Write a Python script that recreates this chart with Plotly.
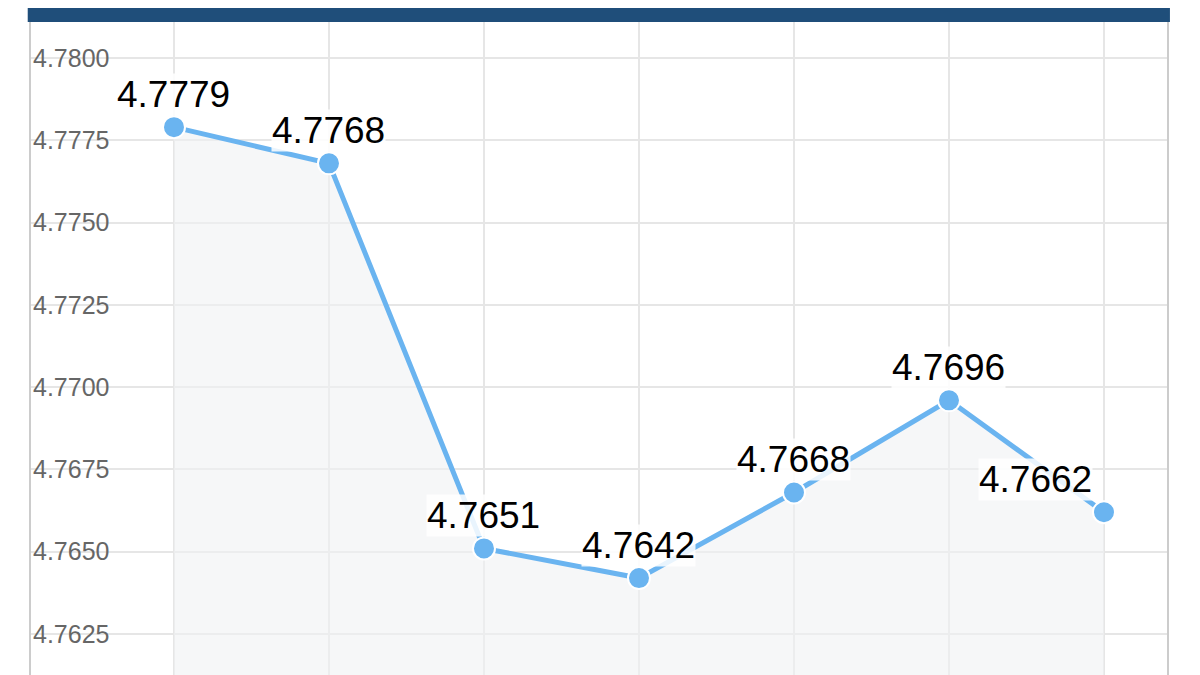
import plotly.graph_objects as go

cats = ["1", "2", "3", "4", "5", "6", "7"]
values = [4.7779, 4.7768, 4.7651, 4.7642, 4.7668, 4.7696, 4.7662]
labels = ["4.7779", "4.7768", "4.7651", "4.7642", "4.7668", "4.7696", "4.7662"]
label_dx = [0, 0, 0, 0, 0, 0, -68]
tickvals = [4.7625, 4.7650, 4.7675, 4.7700, 4.7725, 4.7750, 4.7775, 4.7800]

xs = list(range(len(cats)))
fig = go.Figure()
fig.add_trace(go.Scatter(
    x=xs, y=values, mode="lines+markers", fill="tozeroy",
    fillcolor="rgba(240,242,244,0.6)",
    line=dict(color="#6ab4f0", width=5),
    marker=dict(size=22, color="#6ab4f0", line=dict(color="white", width=2)),
    hoverinfo="skip"))
for x, v, t, dx in zip(xs, values, labels, label_dx):
    fig.add_annotation(x=x, y=v, text=t, showarrow=False, yshift=33, xshift=dx,
                       font=dict(size=37, color="black", family="Liberation Sans"),
                       bgcolor="rgba(255,255,255,0.85)", borderpad=0)
fig.update_layout(
    width=1200, height=675, margin=dict(l=22, r=40, t=14, b=8),
    paper_bgcolor="white", plot_bgcolor="white", showlegend=False,
    xaxis=dict(range=[-0.929, 6.413], tickvals=xs, showticklabels=False,
               showgrid=True, gridcolor="#e6e6e6", gridwidth=2, zeroline=False),
    yaxis=dict(range=[4.761255, 4.781094], tickvals=tickvals,
               ticktext=[f"{v:.4f}" for v in tickvals], ticklabelposition="inside",
               tickfont=dict(size=25, color="#666", family="Liberation Sans"),
               showgrid=True, gridcolor="#e6e6e6", gridwidth=2, zeroline=False),
    shapes=[
        dict(type="rect", xref="paper", yref="paper", x0=-0.002, x1=1.0017,
             y0=1.0, y1=1.03, fillcolor="#1f4e7a", line=dict(width=0), layer="above"),
        dict(type="line", xref="paper", yref="paper", x0=0, x1=0, y0=0, y1=1,
             line=dict(color="#cccccc", width=2)),
        dict(type="line", xref="paper", yref="paper", x0=1, x1=1, y0=0, y1=1,
             line=dict(color="#cccccc", width=2)),
    ])
fig.write_html("out.html")
